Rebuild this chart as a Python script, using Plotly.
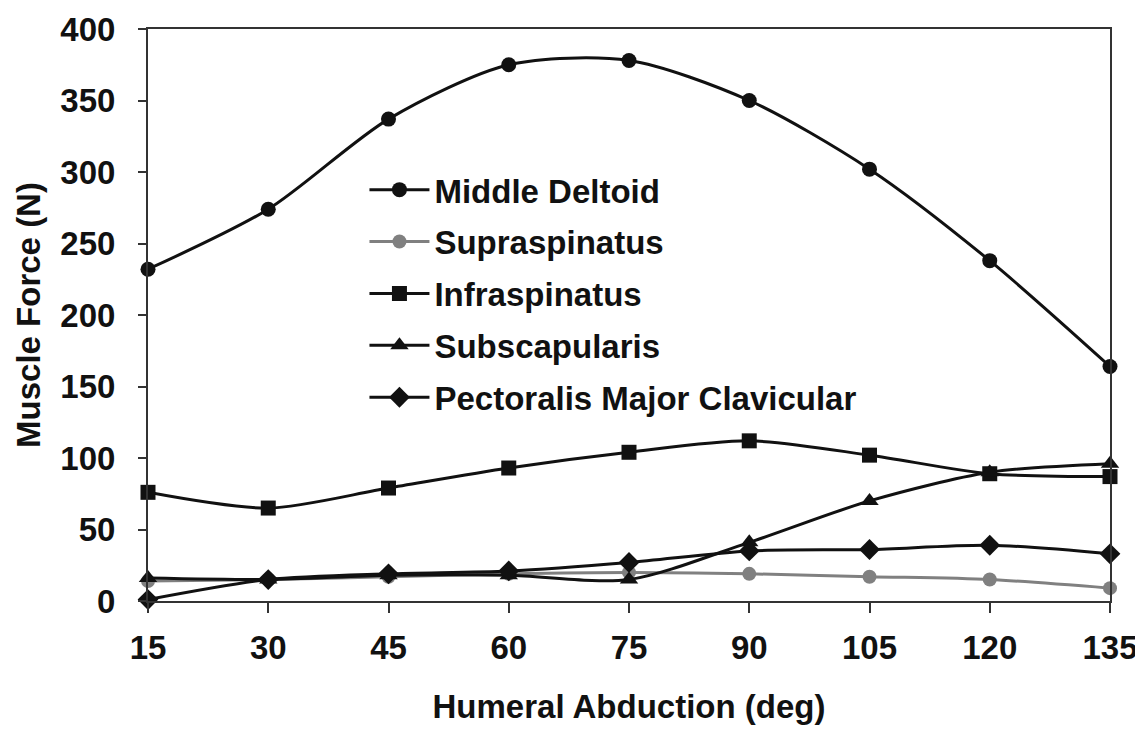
import plotly.graph_objects as go

abduction = [15, 30, 45, 60, 75, 90, 105, 120, 135]
middle_deltoid = [232, 274, 337, 375, 378, 350, 302, 238, 164]
supraspinatus = [14, 15, 17, 19, 20, 19, 17, 15, 9]
infraspinatus = [76, 65, 79, 93, 104, 112, 102, 89, 87]
subscapularis = [16, 15, 18, 18, 15, 41, 70, 90, 96]
pectoralis = [1, 15, 19, 21, 27, 35, 36, 39, 33]

x_ticks = [15, 30, 45, 60, 75, 90, 105, 120, 135]
y_ticks = [0, 50, 100, 150, 200, 250, 300, 350, 400]

FONT = "Liberation Sans, Arial, sans-serif"
DARK = "#111111"
GRAY = "#808080"
FS = 33

series = [
    ("Middle Deltoid", middle_deltoid, "circle", DARK, 15),
    ("Supraspinatus", supraspinatus, "circle", GRAY, 14),
    ("Infraspinatus", infraspinatus, "square", DARK, 15),
    ("Subscapularis", subscapularis, "triangle-up", DARK, 16),
    ("Pectoralis Major Clavicular", pectoralis, "diamond", DARK, 16),
]

fig = go.Figure()
for i, (name, vals, sym, col, size) in enumerate(series):
    fig.add_trace(go.Scatter(
        x=abduction, y=vals, name=name, mode="lines+markers",
        line=dict(color=col, width=3, shape="spline", smoothing=0.8),
        marker=dict(symbol=sym, size=size, color=col),
        legendgroup=f"g{i}", cliponaxis=False,
    ))

fig.update_layout(
    width=1135, height=721,
    paper_bgcolor="white", plot_bgcolor="white",
    margin=dict(l=140, r=33, t=21, b=128, autoexpand=False),
    font=dict(family=FONT, size=FS, color=DARK),
    showlegend=True,
    legend=dict(
        x=0.225, y=0.768, xanchor="left", yanchor="top",
        bgcolor="rgba(0,0,0,0)", borderwidth=0,
        font=dict(family=FONT, size=FS, color=DARK, weight="bold"),
        traceorder="grouped", tracegroupgap=6,
        itemwidth=60,
    ),
    xaxis=dict(
        range=[15, 135], tickvals=x_ticks, ticktext=[str(v) for v in x_ticks],
        showgrid=False, zeroline=False,
        showline=True, linecolor="#333333", linewidth=2, mirror=True,
        ticks="outside", ticklen=10, tickwidth=2, tickcolor="#333333",
        tickfont=dict(family=FONT, size=FS, color=DARK, weight="bold"),
        ticklabelstandoff=6, ticklabeloverflow="allow",
        title=dict(text="Humeral Abduction (deg)", standoff=30,
                   font=dict(family=FONT, size=FS, color=DARK, weight="bold")),
    ),
    yaxis=dict(
        range=[0, 400], tickvals=y_ticks, ticktext=[str(v) for v in y_ticks],
        showgrid=False, zeroline=False,
        showline=True, linecolor="#333333", linewidth=2, mirror=True,
        ticks="outside", ticklen=8, tickwidth=2, tickcolor="#333333",
        tickfont=dict(family=FONT, size=FS, color=DARK, weight="bold"),
        ticklabelstandoff=16, ticklabeloverflow="allow",
        title=dict(text="Muscle Force (N)", standoff=10,
                   font=dict(family=FONT, size=FS, color=DARK, weight="bold")),
    ),
)

fig.write_html("out.html")
